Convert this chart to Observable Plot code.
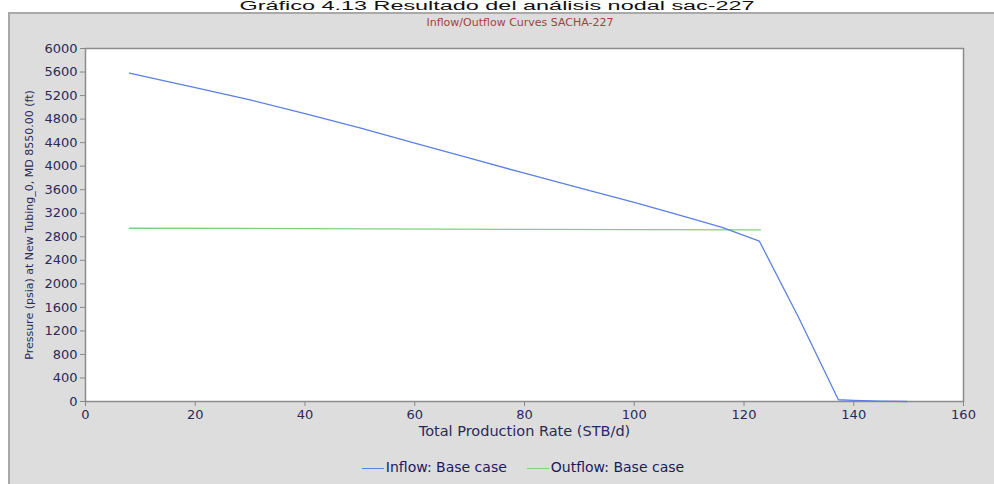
<!DOCTYPE html>
<html><head><meta charset="utf-8">
<script src="https://cdn.jsdelivr.net/npm/d3@7"></script>
<script src="https://cdn.jsdelivr.net/npm/@observablehq/plot@0.6"></script>
<style>
body{margin:0;background:#fff;width:994px;height:484px;overflow:hidden;position:relative;font-family:"DejaVu Sans",sans-serif;}
#heading{position:absolute;left:0;width:994px;top:0px;text-align:center;font:12px "Liberation Sans",Arial,sans-serif;line-height:12px;color:#111;white-space:nowrap;}
#heading span{display:inline-block;transform:scaleX(1.95);transform-origin:center;}
#panel{position:absolute;left:8px;top:12px;width:986px;height:472px;background:#dddddd;border-top:2px solid #a9a9a9;border-left:2px solid #a9a9a9;box-sizing:border-box;}
#charttitle{position:absolute;left:0;width:1040px;top:16px;text-align:center;font:11px "DejaVu Sans",sans-serif;color:#a3413f;}
#chart{position:absolute;left:0;top:0;}
#legend{position:absolute;left:0;top:459px;width:1046px;text-align:center;font:14px "DejaVu Sans",sans-serif;color:#1a1a60;white-space:nowrap;}
#legend .sw{display:inline-block;width:22px;height:0;border-top:1px solid;vertical-align:middle;margin-right:2px;}
#legend .item{margin:0 10px;}
</style></head>
<body>
<div id="heading"><span>Gráfico 4.13 Resultado del análisis nodal sac-227</span></div>
<div id="panel"></div>
<div id="charttitle">Inflow/Outflow Curves SACHA-227</div>
<div id="chart"></div>
<div id="legend"></div>
<script>
const inflowRate = [8, 20, 30, 40, 50, 60, 70, 80, 90, 100, 110, 116, 122.8, 130, 137.2, 140, 145, 149.7];
const inflowPressure = [5580, 5335, 5125, 4895, 4650, 4390, 4135, 3880, 3630, 3385, 3120, 2960, 2725, 1420, 30, 18, 6, 0];
const outflowRate = [8, 40, 80, 123];
const outflowPressure = [2945, 2940, 2925, 2918];
const xTicks = [0, 20, 40, 60, 80, 100, 120, 140, 160];
const yTicks = d3.range(0, 6001, 400);
const seriesNames = ["Inflow: Base case", "Outflow: Base case"];
const seriesColors = ["#5b80e2", "#7ed27e"];

const inflow = inflowRate.map((x, i) => ({x, y: inflowPressure[i]}));
const outflow = outflowRate.map((x, i) => ({x, y: outflowPressure[i]}));

const chart = Plot.plot({
  width: 994, height: 484,
  marginLeft: 85, marginRight: 31, marginTop: 48, marginBottom: 83,
  style: {background: "transparent", fontFamily: "DejaVu Sans, sans-serif", fontSize: "13px", color: "#2a2a5a"},
  x: {domain: [0, 160]},
  y: {domain: [0, 6000]},
  marks: [
    Plot.frame({fill: "white", stroke: "#8c8c8c", strokeWidth: 1.5}),
    Plot.line(outflow, {x: "x", y: "y", stroke: seriesColors[1], strokeWidth: 1.3}),
    Plot.line(inflow, {x: "x", y: "y", stroke: seriesColors[0], strokeWidth: 1.3}),
    Plot.axisX({ticks: xTicks, tickFormat: "d", tickSize: 5, tickPadding: 3, stroke: "#888", fontSize: 13, label: null}),
    Plot.axisX({ticks: [], tickSize: 0, label: "Total Production Rate (STB/d)", labelAnchor: "center", labelArrow: "none", labelOffset: 34, fontSize: 14.5}),
    Plot.axisY({ticks: yTicks, tickFormat: "d", tickSize: 5, tickPadding: 3, stroke: "#888", fontSize: 13, label: null}),
    Plot.axisY({ticks: [], tickSize: 0, label: "Pressure (psia) at New Tubing_0, MD 8550.00 (ft)", labelAnchor: "center", labelArrow: "none", labelOffset: 60, fontSize: 11})
  ]
});
document.getElementById("chart").append(chart);

const legend = document.getElementById("legend");
seriesNames.forEach((n, i) => {
  const s = document.createElement("span");
  s.className = "item";
  s.innerHTML = `<span class="sw" style="border-color:${seriesColors[i]}"></span>${n}`;
  legend.append(s);
});
</script>
</body></html>
